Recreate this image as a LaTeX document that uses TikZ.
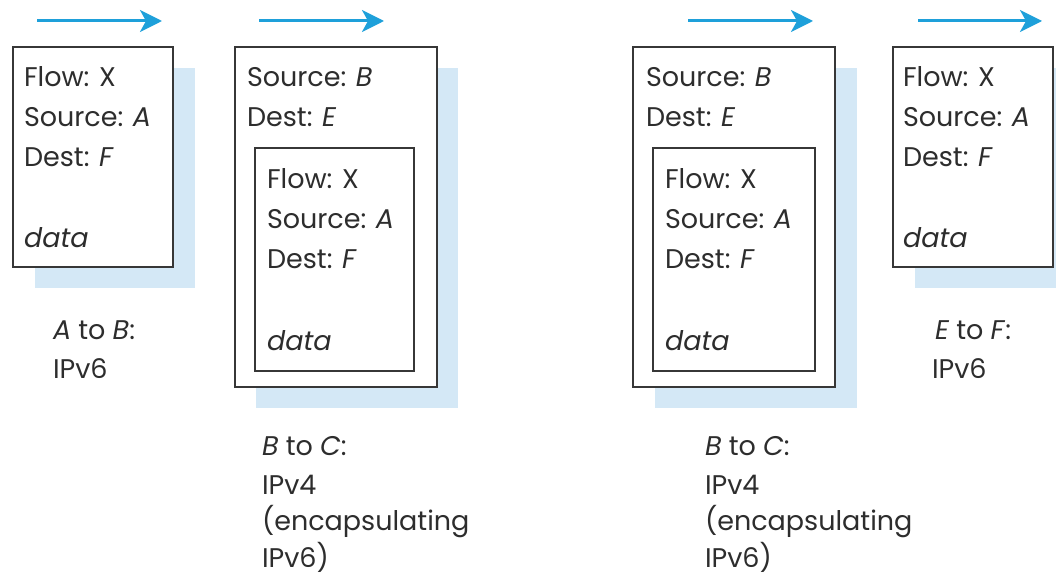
\documentclass[tikz,border=0pt]{standalone}
\usepackage{fontspec}
\setmainfont{Poppins}
\usetikzlibrary{arrows.meta}
\definecolor{shadowblue}{RGB}{212,232,246}
\definecolor{flowblue}{RGB}{30,160,218}
\definecolor{frame}{RGB}{55,55,55}
\definecolor{ink}{RGB}{45,45,45}
\tikzset{
  pkt/.style={draw=frame, line width=1.8pt, fill=white, inner sep=0pt, outer sep=0pt},
  shade/.style={fill=shadowblue, draw=none, inner sep=0pt, outer sep=0pt},
  txt/.style={anchor=base west, inner sep=0pt, outer sep=0pt, text=ink, font=\fontsize{27}{35}\selectfont},
  flowarrow/.style={draw=flowblue, line width=3pt, -{Stealth[length=22pt,width=22pt,inset=6pt]}}
}
\begin{document}
\begin{tikzpicture}[x=1pt,y=-1pt]
\useasboundingbox (0,0) rectangle (1056,580);
\clip (0,0) rectangle (1056,580);
% arrows
\coordinate (a1s) at (37,21);  \coordinate (a1e) at (162,21);
\coordinate (a2s) at (259,21); \coordinate (a2e) at (384,21);
\coordinate (a3s) at (688,21); \coordinate (a3e) at (813,21);
\coordinate (a4s) at (918,21); \coordinate (a4e) at (1042,21);
\draw[flowarrow] (a1s) -- (a1e);
\draw[flowarrow] (a2s) -- (a2e);
\draw[flowarrow] (a3s) -- (a3e);
\draw[flowarrow] (a4s) -- (a4e);
% panel 1
\node[shade, minimum width=160, minimum height=220] (s1) at (115,178) {};
\node[pkt, minimum width=160, minimum height=220] (p1) at (93,157) {};
\node[txt] (p1a) at (24,87) {Flow: X};
\node[txt] (p1b) at (24,127) {Source: \textit{A}};
\node[txt] (p1c) at (24,167) {Dest: \textit{F}};
\node[txt] (p1d) at (24,247) {\textit{data}};
\node[txt] (l1a) at (53,339) {\textit{A} to \textit{B}:};
\node[txt] (l1b) at (53,378) {IPv6};
% panel 2
\node[shade, minimum width=202, minimum height=340] (s2) at (357,238) {};
\node[pkt, minimum width=202, minimum height=340] (p2) at (336,217) {};
\node[pkt, minimum width=159, minimum height=223] (q2) at (334.5,259.5) {};
\node[txt] (p2a) at (247,87) {Source: \textit{B}};
\node[txt] (p2b) at (247,127) {Dest: \textit{E}};
\node[txt] (q2a) at (267,188) {Flow: X};
\node[txt] (q2b) at (267,228) {Source: \textit{A}};
\node[txt] (q2c) at (267,268) {Dest: \textit{F}};
\node[txt] (q2d) at (267,350) {\textit{data}};
\node[txt] (l2a) at (262,455) {\textit{B} to \textit{C}:};
\node[txt] (l2b) at (262,494) {IPv4};
\node[txt] (l2c) at (262,530) {(encapsulating};
\node[txt] (l2d) at (262,567) {IPv6)};
% panel 3
\node[shade, minimum width=202, minimum height=340] (s3) at (756,238) {};
\node[pkt, minimum width=202, minimum height=340] (p3) at (734,217) {};
\node[pkt, minimum width=162, minimum height=223] (q3) at (734,259.5) {};
\node[txt] (p3a) at (646,87) {Source: \textit{B}};
\node[txt] (p3b) at (646,127) {Dest: \textit{E}};
\node[txt] (q3a) at (665,188) {Flow: X};
\node[txt] (q3b) at (665,228) {Source: \textit{A}};
\node[txt] (q3c) at (665,268) {Dest: \textit{F}};
\node[txt] (q3d) at (665,350) {\textit{data}};
\node[txt] (l3a) at (705,455) {\textit{B} to \textit{C}:};
\node[txt] (l3b) at (705,494) {IPv4};
\node[txt] (l3c) at (705,530) {(encapsulating};
\node[txt] (l3d) at (705,567) {IPv6)};
% panel 4
\node[shade, minimum width=160, minimum height=220] (s4) at (995,178) {};
\node[pkt, minimum width=160, minimum height=220] (p4) at (973,157) {};
\node[txt] (p4a) at (903,87) {Flow: X};
\node[txt] (p4b) at (903,127) {Source: \textit{A}};
\node[txt] (p4c) at (903,167) {Dest: \textit{F}};
\node[txt] (p4d) at (903,247) {\textit{data}};
\node[txt] (l4a) at (935,339) {\textit{E} to \textit{F}:};
\node[txt] (l4b) at (932,378) {IPv6};
\end{tikzpicture}
\end{document}
